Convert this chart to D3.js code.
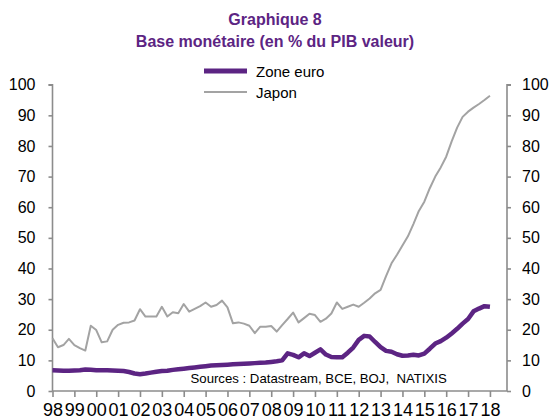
<!DOCTYPE html>
<html><head><meta charset="utf-8">
<script src="https://cdn.jsdelivr.net/npm/d3@7"></script>
<style>
body{margin:0;background:#fff;}
svg{display:block;font-family:"Liberation Sans",Arial,sans-serif;}
</style></head>
<body><svg id="c" width="551" height="419"></svg>
<script>
const title1 = "Graphique 8";
const title2 = "Base monétaire (en % du PIB valeur)";
const seriesNames = ["Zone euro", "Japon"];
const startYear = 1998;
const yearTicks = [1998,1999,2000,2001,2002,2003,2004,2005,2006,2007,2008,2009,2010,2011,2012,2013,2014,2015,2016,2017,2018];
const yTicks = [0,10,20,30,40,50,60,70,80,90,100];
const sourceText = "Sources : Datastream, BCE, BOJ,  NATIXIS";
// quarterly values, 1998Q1 .. 2018Q1
const zoneEuro = [6.8,6.7,6.6,6.6,6.7,6.8,7.0,6.9,6.8,6.8,6.8,6.7,6.6,6.5,6.2,5.7,5.5,5.7,6.0,6.3,
  6.5,6.6,6.9,7.1,7.3,7.5,7.7,7.9,8.1,8.3,8.4,8.5,8.6,8.7,8.8,8.9,9.0,9.1,9.2,9.3,
  9.5,9.7,10.0,12.3,11.8,11.0,12.3,11.4,12.5,13.6,11.9,11.1,11.0,11.0,12.5,14.2,16.7,18.0,17.8,16.0,
  14.3,13.1,12.8,12.0,11.5,11.6,11.8,11.6,12.2,13.8,15.5,16.3,17.4,18.8,20.3,22.0,23.5,26.0,26.9,27.7,27.5];
const japon = [17.2,14.3,15.0,17.0,15.0,14.0,13.2,21.3,19.9,15.9,16.2,20.0,21.6,22.3,22.4,23.0,26.7,24.3,24.3,24.3,
  27.5,24.3,25.7,25.4,28.4,25.9,26.8,27.7,28.9,27.5,28.1,29.5,27.3,22.1,22.4,22.0,21.3,18.9,21.0,21.0,
  21.2,19.4,21.5,23.5,25.6,22.4,23.8,25.2,24.8,22.6,23.6,25.3,28.9,26.8,27.5,28.2,27.5,28.8,30.2,31.9,
  33.0,37.5,41.7,44.5,47.5,50.5,54.5,58.8,61.8,66.2,70.0,73.0,76.5,81.5,86.0,89.5,91.2,92.5,93.7,95.0,96.4];

const purple = "#5c2483", grey = "#a3a3a3", axisCol = "#8c8c8c";
const svg = d3.select("#c");
const x = d3.scaleLinear().domain([1998, 2018.78]).range([52.5, 507]);
const y = d3.scaleLinear().domain([0, 100]).range([391, 84.7]);
const t = i => startYear + i / 4;

svg.append("text").attr("x", 275).attr("y", 25).attr("text-anchor", "middle")
  .attr("font-weight", "bold").attr("font-size", 16).attr("fill", purple).text(title1);
svg.append("text").attr("x", 275).attr("y", 47).attr("text-anchor", "middle")
  .attr("font-weight", "bold").attr("font-size", 16).attr("fill", purple).text(title2);

// axes
const gl = svg.append("g").attr("transform", "translate(52.5,0)")
  .call(d3.axisLeft(y).tickValues(yTicks).tickSize(4).tickPadding(13).tickFormat(d3.format("d")));
const gr = svg.append("g").attr("transform", "translate(507,0)")
  .call(d3.axisRight(y).tickValues(yTicks).tickSize(4).tickPadding(11).tickFormat(d3.format("d")));
const gb = svg.append("g").attr("transform", "translate(0,391)")
  .call(d3.axisBottom(x).tickValues(yearTicks).tickSize(6).tickPadding(6).tickFormat(d => String(d % 100).padStart(2, "0")));
[gl, gr].forEach(g => g.selectAll("text").attr("font-size", 16).attr("fill", "#000").attr("font-family", "Liberation Sans, Arial, sans-serif"));
gb.selectAll("text").attr("font-size", 18).attr("fill", "#000").attr("font-family", "Liberation Sans, Arial, sans-serif")
  .attr("dy", null).attr("y", 25);
[gl, gr, gb].forEach(g => { g.selectAll("path,line").attr("stroke", axisCol).attr("stroke-width", 1.6); g.select(".domain").attr("d", null); });
gl.select(".domain").attr("d", `M-4,${y(100)}H0V${y(0)}`);
gr.select(".domain").attr("d", `M4,${y(100)}H0V${y(0)}`);
gb.select(".domain").attr("d", `M52.5,0H507`);

const line = d3.line().x((d, i) => x(t(i))).y(d => y(d));
svg.append("path").datum(japon).attr("d", line).attr("fill", "none").attr("stroke", grey).attr("stroke-width", 2).attr("stroke-linejoin", "round");
svg.append("path").datum(zoneEuro).attr("d", line).attr("fill", "none").attr("stroke", purple).attr("stroke-width", 4.5).attr("stroke-linejoin", "round");

svg.append("text").attr("x", 190.5).attr("y", 383).attr("font-size", 13.2).attr("fill", "#000")
  .style("white-space", "pre").text(sourceText);

// legend
const leg = [{n: seriesNames[0], c: purple, w: 5, yy: 71}, {n: seriesNames[1], c: grey, w: 2, yy: 92}];
leg.forEach(l => {
  svg.append("line").attr("x1", 204).attr("x2", 247).attr("y1", l.yy).attr("y2", l.yy).attr("stroke", l.c).attr("stroke-width", l.w);
  svg.append("text").attr("x", 256).attr("y", l.yy + 5.5).attr("font-size", 15).attr("fill", "#000").text(l.n);
});
</script></body></html>
